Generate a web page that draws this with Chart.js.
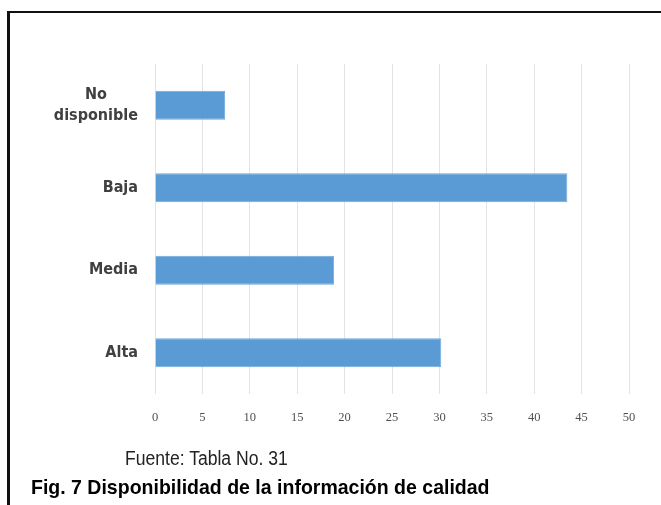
<!DOCTYPE html>
<html>
<head>
<meta charset="utf-8">
<script src="https://cdn.jsdelivr.net/npm/chart.js@4"></script>
<style>
  html, body { margin: 0; padding: 0; background: #fff; }
  #wrap { position: relative; width: 661px; height: 505px; overflow: hidden; }
  #frame { position: absolute; left: 7px; top: 11px; width: 700px; height: 600px;
           border-top: 2px solid #111; border-left: 3px solid #111; }
  canvas { position: absolute; left: 0; top: 0; }
  .cap { position: absolute; white-space: nowrap; line-height: 1; transform-origin: 0 0;
         font-family: 'Liberation Sans', Arial, sans-serif; }
  #fuente { left: 125px; top: 449px; font-size: 19.5px; color: #222; }
  #fig { left: 31px; top: 476px; font-size: 21px; font-weight: bold; color: #000; }
</style>
</head>
<body>
<div id="wrap">
  <div id="frame"></div>
  <canvas id="chart" width="661" height="505"></canvas>
  <div class="cap" id="fuente" data-w="163">Fuente: Tabla No. 31</div>
  <div class="cap" id="fig" data-w="459">Fig. 7 Disponibilidad de la información de calidad</div>
</div>
<script>
const categories = [['No', 'disponible'], 'Baja', 'Media', 'Alta'];
const values = [7.4, 43.5, 18.9, 30.2];
const xTicks = [0, 5, 10, 15, 20, 25, 30, 35, 40, 45, 50];

const labelFont = "bold 16px 'DejaVu Sans Condensed', 'Liberation Sans', sans-serif";

// narrow caption look: squeeze the text to the width seen in the figure
document.querySelectorAll('.cap').forEach(el => {
  const s = Number(el.dataset.w) / el.offsetWidth;
  el.style.transform = 'scaleX(' + s.toFixed(3) + ')';
});

// category labels: right aligned block, multi-line labels centred inside it
const catLabels = {
  id: 'catLabels',
  afterDraw(chart) {
    const ctx = chart.ctx;
    const y = chart.scales.y;
    const right = 138;
    ctx.save();
    ctx.font = labelFont;
    ctx.fillStyle = '#404040';
    ctx.textBaseline = 'middle';
    ctx.textAlign = 'center';
    categories.forEach((lab, i) => {
      const lines = Array.isArray(lab) ? lab : [lab];
      const w = Math.max(...lines.map(l => ctx.measureText(l).width));
      const cx = right - w / 2;
      const cy = y.getPixelForValue(i);
      const lh = 21;
      lines.forEach((l, j) => {
        ctx.fillText(l, cx, cy + (j - (lines.length - 1) / 2) * lh);
      });
    });
    ctx.restore();
  }
};

new Chart(document.getElementById('chart').getContext('2d'), {
  type: 'bar',
  data: {
    labels: categories.map(c => Array.isArray(c) ? c.join(' ') : c),
    datasets: [{
      data: values,
      backgroundColor: '#5B9BD5',
      borderColor: '#6FA8DC',
      borderWidth: 1,
      barPercentage: 0.35,
      categoryPercentage: 1
    }]
  },
  options: {
    indexAxis: 'y',
    responsive: false,
    animation: false,
    layout: { padding: { left: 147, right: 32, top: 64, bottom: 64 } },
    plugins: { legend: { display: false }, tooltip: { enabled: false } },
    scales: {
      x: {
        min: 0,
        max: 50,
        afterBuildTicks: (scale) => { scale.ticks = xTicks.map(v => ({ value: v })); },
        grid: { color: '#e3e3e3', drawTicks: false },
        border: { display: false },
        ticks: {
          padding: 16,
          color: '#505050',
          font: { family: "'Liberation Serif', serif", size: 12.5 }
        }
      },
      y: {
        grid: { display: false },
        border: { display: false },
        ticks: { display: false }
      }
    }
  },
  plugins: [catLabels]
});
</script>
</body>
</html>
